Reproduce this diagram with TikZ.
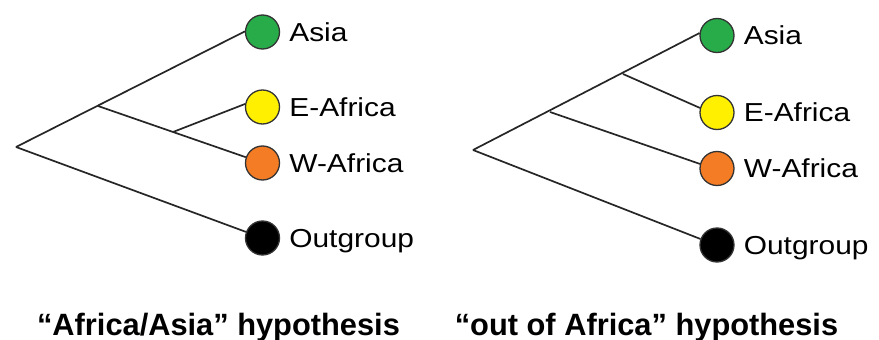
\documentclass[tikz,border=0pt]{standalone}
\usepackage{fontspec}
\setmainfont{Liberation Sans}
\usepackage{graphicx}
\usetikzlibrary{positioning}
\definecolor{asiagreen}{RGB}{40,172,74}
\definecolor{eafyellow}{RGB}{255,240,0}
\definecolor{waforange}{RGB}{244,124,36}
\newcommand{\wide}[1]{\scalebox{1.15}[1]{#1}}

\begin{document}
\begin{tikzpicture}[x=1pt,y=-1pt,
    leaf/.style={circle,draw=black!80,line width=1.3pt,minimum size=34pt,inner sep=0pt},
    taxon/.style={right=9pt of #1,inner sep=0pt,text height=18.6pt,text depth=0pt,
        font=\fontsize{26}{30}\selectfont},
    branch/.style={line width=1.7pt,black!85},
    caption/.style={anchor=base,inner sep=0pt,font=\bfseries\fontsize{30.8}{34}\selectfont}]
\useasboundingbox (0,0) rectangle (879,340);

% Africa/Asia tree
\coordinate (root1) at (16,147);
\coordinate (split1) at (98,106);
\coordinate (split2) at (173,132);
\node[leaf,fill=asiagreen] (asia1) at (262.5,32) {};
\node[leaf,fill=eafyellow] (eaf1) at (262.5,107) {};
\node[leaf,fill=waforange] (waf1) at (262.5,163) {};
\node[leaf,fill=black] (out1) at (262.5,238) {};
\node[taxon=asia1] {\wide{Asia}};
\node[taxon=eaf1] {\wide{E-Africa}};
\node[taxon=waf1] {\wide{W-Africa}};
\node[taxon=out1] {\wide{Outgroup}};
\draw[branch] (root1) -- (asia1.178);
\draw[branch] (split1) -- (waf1);
\draw[branch] (split2) -- (eaf1.170);
\draw[branch] (root1) -- (out1);

% out of Africa tree
\coordinate (root2) at (473,150);
\coordinate (split3) at (550,112);
\coordinate (split4) at (623,74);
\node[leaf,fill=asiagreen] (asia2) at (717,35.5) {};
\node[leaf,fill=eafyellow] (eaf2) at (717,112.5) {};
\node[leaf,fill=waforange] (waf2) at (717,168.5) {};
\node[leaf,fill=black] (out2) at (717,245) {};
\node[taxon=asia2] {\wide{Asia}};
\node[taxon=eaf2] {\wide{E-Africa}};
\node[taxon=waf2] {\wide{W-Africa}};
\node[taxon=out2] {\wide{Outgroup}};
\draw[branch] (root2) -- (asia2.172);
\draw[branch] (split4) -- (eaf2.165);
\draw[branch] (split3) -- (waf2.165);
\draw[branch] (root2) -- (out2.160);

\node[caption] (cap1) at (218.5,335) {“Africa/Asia” hypothesis};
\node[caption] (cap2) at (646.5,335) {“out of Africa” hypothesis};
\end{tikzpicture}
\end{document}
